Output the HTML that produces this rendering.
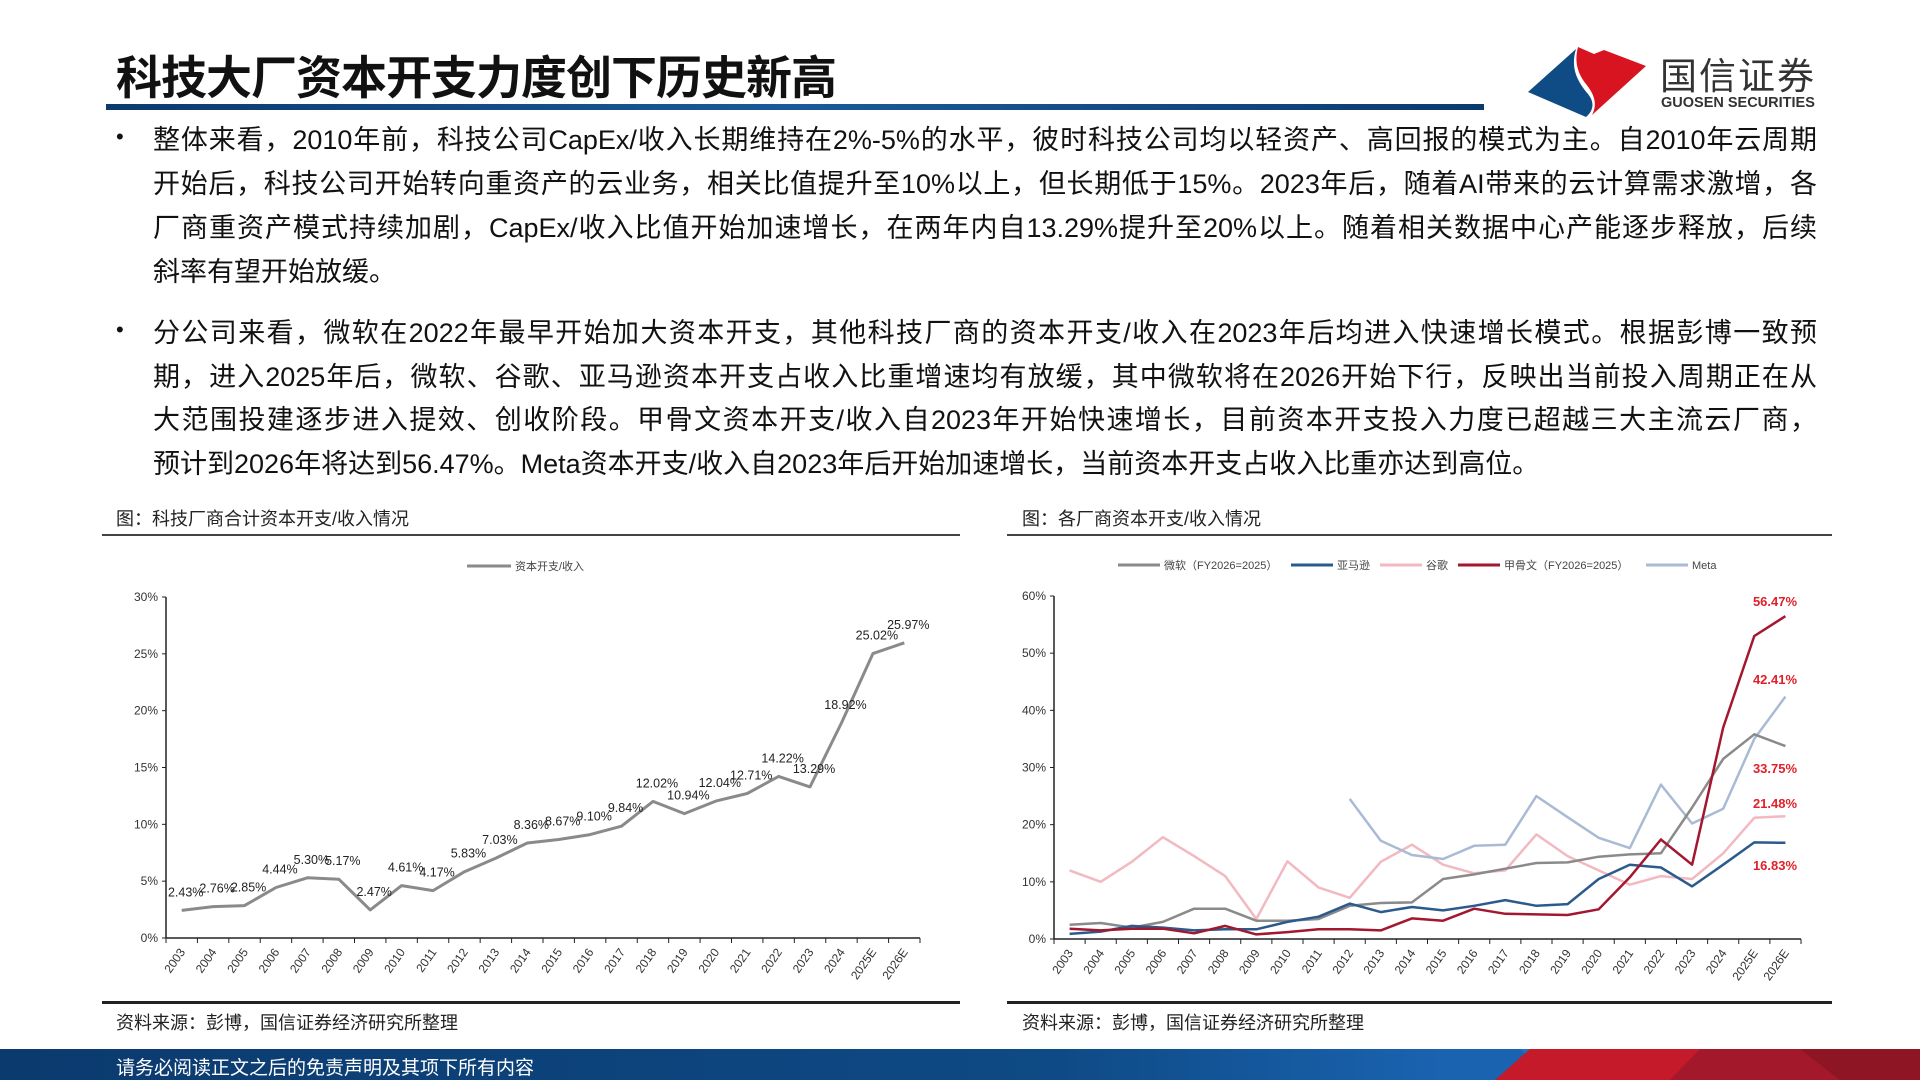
<!DOCTYPE html>
<html><head><meta charset="utf-8">
<style>
body{margin:0;width:1920px;height:1080px;position:relative;background:#fff;overflow:hidden;font-family:"Liberation Sans","Noto Sans CJK SC",sans-serif;color:#111}
.abs{position:absolute}
.line{position:absolute;left:153px;width:1664px;font-size:27px;line-height:44px;text-align:justify;text-align-last:justify;white-space:nowrap;height:44px}
.line.last{text-align-last:left}
.cap{position:absolute;font-size:18px;color:#222}
svg text{font-family:"Liberation Sans","Noto Sans CJK SC",sans-serif}
</style></head><body>
<div class="abs" style="left:116px;top:42px;font-size:46px;font-weight:bold;letter-spacing:-1px;font-family:'Noto Sans CJK SC',sans-serif">科技大厂资本开支力度创下历史新高</div>
<div class="abs" style="left:106px;top:104px;width:1378px;height:6px;background:linear-gradient(90deg,#0b3a6e,#1a5a9a,#0b3a6e)"></div>
<svg class="abs" style="left:1526px;top:44px" width="122" height="74" viewBox="0 0 122 74">
<path d="M2,48 L50,5 C44,25 52,38 62,50 C70,60 66,68 60,73 Z" fill="#0f4c86"/>
<path d="M52,3 L68,10 L78,6 L120,22 L66,71 C72,60 68,50 60,40 C52,30 48,18 52,3 Z" fill="#d7141f"/>
</svg>
<div class="abs" style="left:1660px;top:46px;font-size:37px;color:#333;letter-spacing:2px;font-family:'Noto Sans CJK SC',sans-serif">国信证券</div>
<div class="abs" style="left:1661px;top:95px;font-size:14.5px;font-weight:bold;color:#333;letter-spacing:0px">GUOSEN SECURITIES</div>

<div class="abs" style="left:116px;top:124px;font-size:22px">•</div>
<div>
<div class="line" style="top:118px">整体来看，2010年前，科技公司CapEx/收入长期维持在2%-5%的水平，彼时科技公司均以轻资产、高回报的模式为主。自2010年云周期</div>
<div class="line" style="top:162px">开始后，科技公司开始转向重资产的云业务，相关比值提升至10%以上，但长期低于15%。2023年后，随着AI带来的云计算需求激增，各</div>
<div class="line" style="top:206px">厂商重资产模式持续加剧，CapEx/收入比值开始加速增长，在两年内自13.29%提升至20%以上。随着相关数据中心产能逐步释放，后续</div>
<div class="line last" style="top:250px">斜率有望开始放缓。</div>
</div>
<div class="abs" style="left:116px;top:317px;font-size:22px">•</div>
<div>
<div class="line" style="top:311px">分公司来看，微软在2022年最早开始加大资本开支，其他科技厂商的资本开支/收入在2023年后均进入快速增长模式。根据彭博一致预</div>
<div class="line" style="top:355px">期，进入2025年后，微软、谷歌、亚马逊资本开支占收入比重增速均有放缓，其中微软将在2026开始下行，反映出当前投入周期正在从</div>
<div class="line" style="top:398px">大范围投建逐步进入提效、创收阶段。甲骨文资本开支/收入自2023年开始快速增长，目前资本开支投入力度已超越三大主流云厂商，</div>
<div class="line last" style="top:442px">预计到2026年将达到56.47%。Meta资本开支/收入自2023年后开始加速增长，当前资本开支占收入比重亦达到高位。</div>
</div>

<div class="cap" style="left:116px;top:505px">图：科技厂商合计资本开支/收入情况</div>
<div class="abs" style="left:102px;top:534px;width:858px;height:2px;background:#444"></div>
<div class="cap" style="left:1022px;top:505px">图：各厂商资本开支/收入情况</div>
<div class="abs" style="left:1007px;top:534px;width:825px;height:2px;background:#444"></div>

<svg class="abs" id="chartL" style="left:0;top:0" width="1920" height="1080"></svg>

<div class="abs" style="left:102px;top:1001px;width:858px;height:3px;background:#222"></div>
<div class="abs" style="left:1007px;top:1001px;width:825px;height:3px;background:#222"></div>
<div class="cap" style="left:116px;top:1009px">资料来源：彭博，国信证券经济研究所整理</div>
<div class="cap" style="left:1022px;top:1009px">资料来源：彭博，国信证券经济研究所整理</div>

<div class="abs" style="left:0;top:1049px;width:1920px;height:31px;background:linear-gradient(90deg,#0b3a6e 0%,#0e4a85 55%,#1a63b0 75%,#1a63b0 100%)"></div>
<svg class="abs" style="left:1400px;top:1049px" width="520" height="31">
<polygon points="120,0 260,0 300,31 150,31" fill="#2b78c8" opacity="0.6"/>
<polygon points="130,0 520,0 520,31 95,31" fill="#c41a2a"/>
<polygon points="300,0 520,0 520,31 270,31" fill="#a3182a"/>
<polygon points="400,0 520,0 520,31 440,31" fill="#8e1524"/>
</svg>
<div class="abs" style="left:116px;top:1053px;font-size:19px;color:#fff">请务必阅读正文之后的免责声明及其项下所有内容</div>

<script>
const years = ["2003","2004","2005","2006","2007","2008","2009","2010","2011","2012","2013","2014","2015","2016","2017","2018","2019","2020","2021","2022","2023","2024","2025E","2026E"];
const totalRatio = [2.43,2.76,2.85,4.44,5.30,5.17,2.47,4.61,4.17,5.83,7.03,8.36,8.67,9.10,9.84,12.02,10.94,12.04,12.71,14.22,13.29,18.92,25.02,25.97];
const totalLabels = ["2.43%","2.76%","2.85%","4.44%","5.30%","5.17%","2.47%","4.61%","4.17%","5.83%","7.03%","8.36%","8.67%","9.10%","9.84%","12.02%","10.94%","12.04%","12.71%","14.22%","13.29%","18.92%","25.02%","25.97%"];
const leftTicks = [0,5,10,15,20,25,30];
const msft = [2.5,2.8,2.0,3.0,5.3,5.3,3.2,3.2,3.5,5.8,6.3,6.4,10.5,11.3,12.3,13.3,13.4,14.4,14.8,15.0,23.0,31.5,35.8,33.75];
const amzn = [0.9,1.3,2.3,2.0,1.5,1.7,1.7,3.0,3.9,6.2,4.7,5.6,5.0,5.8,6.8,5.8,6.1,10.5,13.0,12.5,9.2,13.0,16.9,16.83];
const goog = [12.0,10.0,13.5,17.8,14.5,11.0,3.5,13.6,9.0,7.2,13.5,16.5,13.0,11.5,12.0,18.3,14.5,12.0,9.5,11.0,10.5,15.0,21.2,21.48];
const orcl = [1.8,1.5,1.8,1.8,1.0,2.3,0.8,1.2,1.7,1.7,1.5,3.6,3.2,5.3,4.4,4.3,4.2,5.2,10.8,17.4,13.0,37.0,53.0,56.47];
const meta = [null,null,null,null,null,null,null,null,null,24.5,17.2,14.7,14.0,16.3,16.5,25.0,21.3,17.7,15.9,27.0,20.2,22.8,35.0,42.41];
const rightTicks = [0,10,20,30,40,50,60];
const endLabels = ["56.47%","42.41%","33.75%","21.48%","16.83%"];

const NS="http://www.w3.org/2000/svg";
const svg=document.getElementById('chartL');
function mk(tag,attrs,parent){const e=document.createElementNS(NS,tag);for(const k in attrs)e.setAttribute(k,attrs[k]);(parent||svg).appendChild(e);return e;}

function axes(x0,x1,y0,y1,ymax,ticks,prefix){
  const n=years.length,bw=(x1-x0)/n;
  const xs=i=>x0+bw*(i+0.5);
  const ys=v=>y0-(v/ymax)*(y0-y1);
  const g=mk('g',{});
  
  
  const ya=mk('line',{x1:x0,y1:y1,x2:x0,y2:y0,stroke:'#222','stroke-width':1.5},g);
  
  
  const xa=mk('line',{x1:x0,y1:y0,x2:x1,y2:y0,stroke:'#222','stroke-width':1.5},g);
  
  
  ticks.forEach(t=>{
    const y=ys(t);
    mk('line',{x1:x0-4,y1:y,x2:x0,y2:y,stroke:'#222'},g);
    const tx=mk('text',{x:x0-8,y:y+4,'text-anchor':'end','font-size':12,fill:'#333'},g);
    tx.textContent=t+'%';
    
    
  });
  for(let i=0;i<=n;i++){const x=x0+bw*i;mk('line',{x1:x,y1:y0,x2:x,y2:y0+5,stroke:'#222'},g);}
  years.forEach((yr,i)=>{
    const x=xs(i)+4,y=y0+14;
    const tx=mk('text',{x:x,y:y,'text-anchor':'end','font-size':12,fill:'#333',transform:`rotate(-55 ${x} ${y})`},g);
    tx.textContent=yr;
    
    
  });
  return {xs,ys};
}
function series(sc,vals,color,w,name){
  let d='',pen=false;
  vals.forEach((v,i)=>{if(v==null){pen=false;return;}d+=(pen?'L':'M')+sc.xs(i).toFixed(1)+','+sc.ys(v).toFixed(1);pen=true;});
  const p=mk('path',{d:d,fill:'none',stroke:color,'stroke-width':w,'stroke-linejoin':'round'});
  
  
}
// left chart
const L=axes(166,920,938,597,30,leftTicks,'left');
series(L,totalRatio,'#8a8a8a',3,'total-capex-line');
totalRatio.forEach((v,i)=>{
  const t=mk('text',{x:L.xs(i)+4,y:L.ys(v)-14,'text-anchor':'middle','font-size':12.5,fill:'#222'});
  t.textContent=totalLabels[i];
  
  
});
mk('line',{x1:467,y1:566,x2:511,y2:566,stroke:'#8a8a8a','stroke-width':3});
const lt=mk('text',{x:515,y:570,'font-size':11,fill:'#444'});lt.textContent='资本开支/收入';


// right chart
const R=axes(1054,1801,939,596,60,rightTicks,'right');
series(R,goog,'#f2b9c1',2.5,'google-line');
series(R,meta,'#a9bbd4',2.5,'meta-line');
series(R,msft,'#8a8a8a',2.5,'microsoft-line');
series(R,amzn,'#2b5a8c',2.5,'amazon-line');
series(R,orcl,'#a3172f',2.5,'oracle-line');
const labY=[601,679,768,803,865];
endLabels.forEach((s,i)=>{
  const t=mk('text',{x:1775,y:labY[i]+5,'text-anchor':'middle','font-size':13,'font-weight':'bold',fill:'#e0202a'});
  t.textContent=s;
  
  
});
const legendItems=[[1118,'#8a8a8a','微软（FY2026=2025）'],[1291,'#2b5a8c','亚马逊'],[1380,'#f2b9c1','谷歌'],[1458,'#a3172f','甲骨文（FY2026=2025）'],[1646,'#a9bbd4','Meta']];
legendItems.forEach(it=>{
  mk('line',{x1:it[0],y1:565,x2:it[0]+42,y2:565,stroke:it[1],'stroke-width':3});
  const t=mk('text',{x:it[0]+46,y:569,'font-size':11,fill:'#444'});
  t.textContent=it[2];
  
  
});
</script>
</body></html>
